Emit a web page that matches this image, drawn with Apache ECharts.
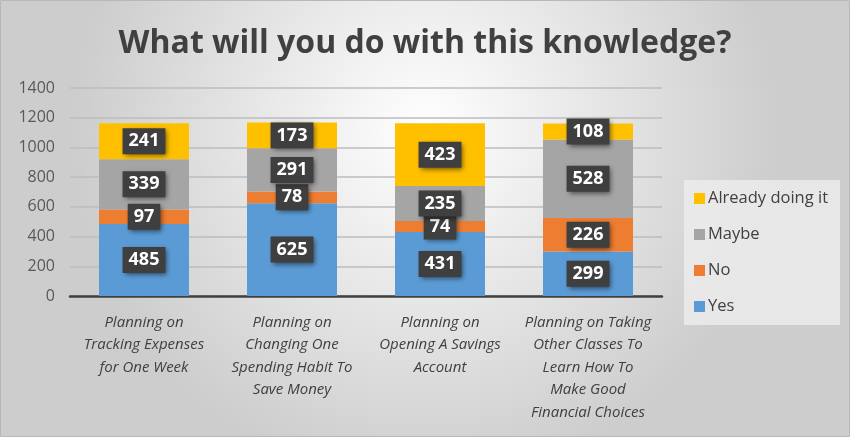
<!DOCTYPE html>
<html>
<head>
<meta charset="utf-8">
<script src="https://cdn.jsdelivr.net/npm/echarts@6/dist/echarts.min.js"></script>
<style>
  html, body { margin: 0; padding: 0; }
  #main { width: 850px; height: 437px; }
</style>
</head>
<body>
<div id="main"></div>
<script>
// data
var categories = [
    'Planning on\nTracking Expenses\nfor One Week',
    'Planning on\nChanging One\nSpending Habit To\nSave Money',
    'Planning on\nOpening A Savings\nAccount',
    'Planning on Taking\nOther Classes To\nLearn How To\nMake Good\nFinancial Choices'
]
var yesValues = [485, 625, 431, 299]
var noValues = [97, 78, 74, 226]
var maybeValues = [339, 291, 235, 528]
var alreadyValues = [241, 173, 423, 108]
var yTicks = [0, 200, 400, 600, 800, 1000, 1200, 1400]

var chart = echarts.init(document.getElementById('main'))

var labelStyle = {
    show: true,
    position: 'inside',
    color: '#fff',
    fontFamily: 'Open Sans',
    fontWeight: 'bold',
    fontSize: 18,
    backgroundColor: '#3f3f3f',
    padding: [5, 6, 3, 6],
    shadowColor: 'rgba(0,0,0,0.55)',
    shadowBlur: 5,
    shadowOffsetX: 2,
    shadowOffsetY: 2
}

function makeSeries(name, data, color) {
    return {
        name: name,
        type: 'bar',
        stack: 'all',
        barWidth: 90,
        data: data,
        itemStyle: { color: color },
        label: labelStyle
    }
}

var option = {
    animation: false,
    graphic: [{
        type: 'rect',
        z: -10,
        silent: true,
        shape: { x: 0.5, y: 0.5, width: 849, height: 436 },
        style: {
            fill: new echarts.graphic.RadialGradient(0.5, 0.3, 0.8, [
                { offset: 0, color: '#ffffff' },
                { offset: 1, color: '#cdcdcd' }
            ]),
            stroke: '#b8b8b8',
            lineWidth: 1
        }
    }],
    title: {
        text: 'What will you do with this knowledge?',
        left: 'center',
        top: 23,
        textStyle: {
            fontFamily: 'Open Sans',
            fontWeight: 'bold',
            fontSize: 32,
            color: '#404040'
        }
    },
    legend: {
        orient: 'vertical',
        left: 684,
        top: 180,
        width: 153,
        padding: [10, 12, 10, 10],
        itemGap: 19,
        itemWidth: 11,
        itemHeight: 11,
        icon: 'rect',
        backgroundColor: 'rgba(238,238,238,0.8)',
        data: ['Already doing it', 'Maybe', 'No', 'Yes'],
        textStyle: { fontFamily: 'Open Sans', fontSize: 16.5, color: '#404040', padding: [0, 0, 0, -2] }
    },
    grid: { left: 70, right: 188, top: 88, bottom: 141 },
    xAxis: {
        type: 'category',
        data: categories,
        axisLine: { lineStyle: { color: '#404040', width: 2.5 } },
        axisTick: { show: false },
        axisLabel: {
            interval: 0,
            margin: 15,
            fontFamily: 'Open Sans',
            fontStyle: 'italic',
            fontSize: 15,
            lineHeight: 22.5,
            color: '#404040'
        }
    },
    yAxis: {
        type: 'value',
        min: yTicks[0],
        max: yTicks[yTicks.length - 1],
        interval: 200,
        axisLine: { show: false },
        axisTick: { show: false },
        splitLine: { lineStyle: { color: '#bdbdbd', width: 1.5 } },
        axisLabel: {
            margin: 15,
            fontFamily: 'Open Sans',
            fontSize: 16,
            color: '#595959',
            formatter: function (v) { return String(v) }
        }
    },
    series: [
        makeSeries('Yes', yesValues, '#5b9bd5'),
        makeSeries('No', noValues, '#ed7d31'),
        makeSeries('Maybe', maybeValues, '#a5a5a5'),
        makeSeries('Already doing it', alreadyValues, '#ffc000')
    ]
}

chart.setOption(option)
</script>
</body>
</html>
